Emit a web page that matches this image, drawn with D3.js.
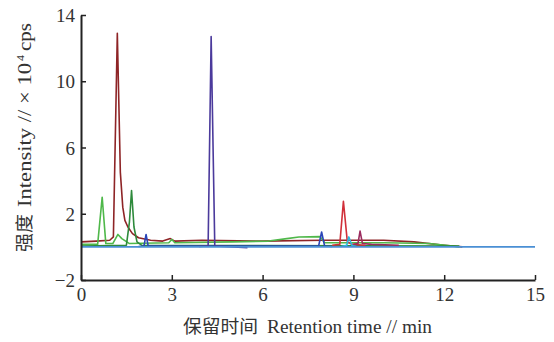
<!DOCTYPE html>
<html>
<head>
<meta charset="utf-8">
<script src="https://cdn.jsdelivr.net/npm/d3@7"></script>
<style>
  body { margin: 0; background: #fff; }
  text { font-family: "Liberation Serif", "Noto Sans CJK SC", serif; }
</style>
</head>
<body>
<div id="chart"></div>
<script>
// tick values
var xTicks = [0, 3, 6, 9, 12, 15];
var yTicks = [-2, 2, 6, 10, 14];

// traces, [time (min), intensity (x10^4 cps)]
var darkRed = [[0, 0.3], [0.5, 0.35], [0.95, 0.4], [1.07, 0.6], [1.2, 12.9], [1.3, 4.5], [1.38, 2.4],
  [1.45, 1.6], [1.55, 1.2], [1.7, 0.8], [1.9, 0.55], [2.3, 0.4], [2.7, 0.35], [2.95, 0.5], [3.1, 0.35],
  [4, 0.4], [6, 0.35], [8, 0.4], [10, 0.4], [11, 0.3], [12, 0.1], [12.6, 0]];
var lightGreen = [[0, 0.15], [0.55, 0.15], [0.7, 3.0], [0.82, 0.2], [1.05, 0.2], [1.22, 0.75], [1.35, 0.5],
  [1.6, 0.2], [2.9, 0.25], [3.0, 0.45], [3.1, 0.25], [5, 0.3], [6.2, 0.35], [6.8, 0.5], [7.2, 0.6],
  [7.9, 0.62], [8.05, 0.25], [10, 0.25], [11.5, 0.2], [12.5, 0]];
var darkGreen = [[0, 0.05], [1.5, 0.1], [1.6, 1.5], [1.67, 3.4], [1.75, 1.2], [1.85, 0.3], [2.0, 0.1], [12.5, 0.05]];
var blue = [[1.9, 0.02], [2.08, 0.05], [2.15, 0.75], [2.22, 0.05], [7.85, 0.05], [7.95, 0.9], [8.05, 0.05], [8.3, 0.02]];
var purple = [[3.9, 0.02], [4.2, 0.05], [4.3, 12.7], [4.42, 0.05], [5.5, -0.05]];
var red = [[8.3, 0.1], [8.55, 0.15], [8.67, 2.75], [8.8, 0.3], [8.95, 0.15], [9.4, 0.1]];
var cyan = [[8.6, 0.02], [8.78, 0.1], [8.85, 0.6], [8.95, 0.1], [9.1, 0.02]];
var maroon = [[9.0, 0.15], [9.15, 0.2], [9.22, 0.95], [9.3, 0.2], [9.6, 0.15], [10.5, 0.1]];
var baseline = [[0, 0], [15, 0]];

var series = [
  { data: darkRed, color: "#8e2426" },
  { data: lightGreen, color: "#4fb84a" },
  { data: darkGreen, color: "#2e8a3c" },
  { data: blue, color: "#2a45b8" },
  { data: red, color: "#d1303a" },
  { data: cyan, color: "#2cb9e0" },
  { data: maroon, color: "#9b2b5e" },
  { data: purple, color: "#4b3a9c" },
  { data: baseline, color: "#4a8fd4" }
];

var width = 554, height = 342;
var margin = { top: 15, right: 19, bottom: 62, left: 81 };
var w = width - margin.left - margin.right;
var h = height - margin.top - margin.bottom;

var root = d3.select("#chart").append("svg")
  .attr("width", width)
  .attr("height", height);
var svg = root.append("g")
  .attr("transform", "translate(" + margin.left + "," + margin.top + ")");

var x = d3.scaleLinear().domain([0, 15]).range([0, w]);
var y = d3.scaleLinear().domain([-2, 14]).range([h, 0]);

var line = d3.line()
  .x(function (d) { return x(d[0]); })
  .y(function (d) { return y(d[1]); });

series.forEach(function (s) {
  svg.append("path")
    .datum(s.data)
    .attr("fill", "none")
    .attr("stroke", s.color)
    .attr("stroke-width", 1.6)
    .attr("stroke-linejoin", "round")
    .attr("d", line);
});

// axes, ticks point inward
var xAxis = svg.append("g")
  .attr("transform", "translate(0," + h + ")")
  .call(d3.axisBottom(x).tickValues(xTicks).tickSizeInner(-5).tickSizeOuter(0).tickPadding(8));
var yAxis = svg.append("g")
  .call(d3.axisLeft(y).tickValues(yTicks).tickSizeInner(-5).tickSizeOuter(0).tickPadding(6));

[xAxis, yAxis].forEach(function (a) {
  a.select(".domain").attr("stroke", "#222").attr("stroke-width", 2);
  a.selectAll(".tick line").attr("stroke", "#222").attr("stroke-width", 1.5);
  a.selectAll(".tick text")
    .attr("fill", "#333")
    .style("font-size", "19px")
    .style("font-family", "'Liberation Serif', serif");
});
yAxis.selectAll(".tick text").attr("dy", "0.35em");
yAxis.selectAll(".tick text").filter(function (d) { return d === -2; }).text("\u22122");

// axis titles (the original uses a tall condensed face, so lengths are fitted)
function fitted(parent, str, px, py, len, size) {
  return parent.append("text")
    .attr("x", px).attr("y", py)
    .attr("textLength", len)
    .attr("lengthAdjust", "spacingAndGlyphs")
    .attr("fill", "#333")
    .style("font-size", size + "px")
    .text(str);
}

fitted(root, "保留时间", 183, 333, 75, 18);
fitted(root, "Retention time // min", 267, 333, 165, 19);

var yt = root.append("g").attr("transform", "translate(31,0) rotate(-90)");
fitted(yt, "强度", -252, 0, 38, 18);
fitted(yt, "Intensity // × 10", -207, 0, 144, 19);
fitted(yt, "4", -61, -7, 6, 11);
fitted(yt, "cps", -51, 0, 28, 19);
</script>
</body>
</html>
